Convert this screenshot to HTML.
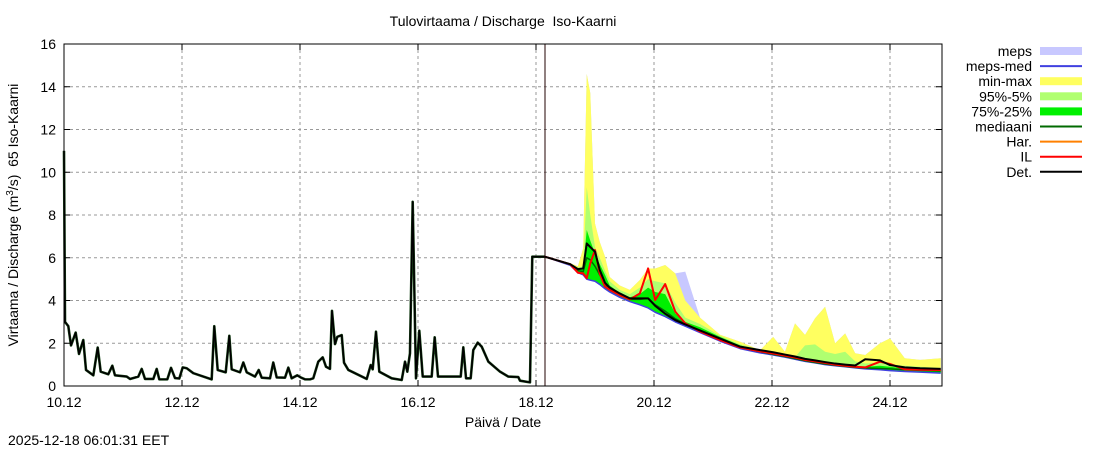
<!DOCTYPE html>
<html><head><meta charset="utf-8"><style>
body{margin:0;background:#fff;}
svg{display:block;font-family:"Liberation Sans",sans-serif;}
</style></head><body>
<svg id="chart" width="1100" height="450" viewBox="0 0 1100 450" xmlns="http://www.w3.org/2000/svg">
<rect width="1100" height="450" fill="#fff"/>
<text x="503" y="26" font-size="14" text-anchor="middle">Tulovirtaama / Discharge&#160; Iso-Kaarni</text>
<text transform="translate(18,215) rotate(-90)" font-size="14" text-anchor="middle">Virtaama / Discharge (m<tspan font-size="10" dy="-5">3</tspan><tspan dy="5">/s)&#160; 65 Iso-Kaarni</tspan></text>
<text x="503" y="427" font-size="14" text-anchor="middle">Päivä / Date</text>
<text x="8" y="445" font-size="14">2025-12-18 06:01:31 EET</text>
<g id="grid"></g><g id="series"></g><g id="axes"></g><g id="legend"></g>
</svg>
<script>
const yTicks=[0,2,4,6,8,10,12,14,16];
const xTickDays=[0,2,4,6,8,10,12,14];
const xTickLabels=["10.12","12.12","14.12","16.12","18.12","20.12","22.12","24.12"];
// history (days from 10.12, value)
const histDays=[0,0.017,0.073,0.119,0.198,0.254,0.327,0.373,0.497,0.571,0.622,0.751,0.819,0.864,1.063,1.119,1.259,1.317,1.373,1.514,1.571,1.615,1.751,1.814,1.881,1.954,2.012,2.080,2.192,2.503,2.547,2.605,2.741,2.802,2.842,2.983,3.039,3.097,3.237,3.300,3.351,3.492,3.547,3.605,3.746,3.802,3.859,3.954,4.012,4.085,4.169,4.225,4.310,4.385,4.441,4.508,4.542,4.593,4.632,4.707,4.746,4.819,5.131,5.198,5.232,5.288,5.344,5.554,5.724,5.780,5.819,5.864,5.910,5.966,6.022,6.080,6.232,6.283,6.339,6.724,6.768,6.814,6.893,6.937,7.012,7.080,7.192,7.390,7.531,7.700,7.729,7.898,7.937,8.153];
const histVals=[11.0,3.0,2.8,1.9,2.5,1.5,2.15,0.75,0.5,1.8,0.67,0.55,0.95,0.5,0.44,0.33,0.44,0.8,0.33,0.33,0.8,0.31,0.31,0.85,0.37,0.35,0.87,0.83,0.6,0.31,2.8,0.75,0.64,2.35,0.78,0.64,1.1,0.64,0.44,0.75,0.39,0.36,1.1,0.4,0.39,0.86,0.36,0.5,0.4,0.31,0.31,0.36,1.14,1.34,0.9,0.8,3.52,1.96,2.3,2.38,1.09,0.75,0.33,0.98,0.78,2.54,0.67,0.36,0.28,1.14,0.67,1.53,8.62,0.36,2.59,0.44,0.44,2.28,0.44,0.44,1.81,0.36,0.36,1.68,2.03,1.84,1.14,0.67,0.44,0.42,0.25,0.17,6.05,6.05];
// forecast
const fcDays=[8.15,8.58,8.71,8.8,8.86,8.92,9.0,9.08,9.17,9.25,9.42,9.59,9.76,9.9,10.02,10.19,10.36,10.53,10.78,11.12,11.46,11.8,12.02,12.22,12.39,12.56,12.73,12.9,13.07,13.24,13.41,13.58,13.83,14.0,14.25,14.51,14.86];
const detVals=[6.05,5.7,5.47,5.5,6.67,6.5,6.28,5.43,4.83,4.6,4.33,4.1,4.1,4.1,3.75,3.38,3.08,2.88,2.6,2.22,1.84,1.68,1.58,1.47,1.38,1.27,1.2,1.12,1.05,1.0,0.96,1.25,1.2,0.98,0.87,0.83,0.8];
const ilVals=[6.05,5.7,5.3,5.27,5.04,5.74,6.36,5.27,4.65,4.5,4.25,4.05,4.33,5.5,4.02,4.77,3.48,2.93,2.55,2.15,1.8,1.62,1.52,1.42,1.33,1.22,1.15,1.08,1.0,0.95,0.9,0.87,1.14,1.03,0.78,0.76,0.75];
const maxVals=[6.05,5.75,5.6,6.44,14.6,13.7,7.6,6.75,6.05,5.1,4.7,4.5,4.96,5.5,5.5,5.66,5.27,4.0,3.2,2.4,2.07,1.68,2.3,1.6,2.93,2.39,3.17,3.71,2.0,2.46,1.53,1.45,2.0,2.23,1.3,1.22,1.3];
const mepsMaxVals=[6.05,5.75,5.6,6.44,14.6,13.7,7.6,6.75,6.05,5.1,4.7,4.5,4.96,5.5,5.5,5.66,5.27,5.35,3.2,2.4,2.07,1.68,2.3,1.6,2.93,2.39,3.17,3.71,2.0,2.46,1.53,1.45,2.0,2.23,1.3,1.22,1.3];
const p95Vals=[6.05,5.7,5.55,5.6,9.3,8.0,6.5,6.0,5.4,4.9,4.5,4.3,4.6,5.0,4.9,4.8,3.9,3.2,2.9,2.35,1.95,1.7,1.5,1.4,1.35,1.9,1.95,1.6,1.5,1.6,1.15,1.05,1.1,1.0,0.95,0.9,0.85];
const p75Vals=[6.05,5.7,5.5,5.5,7.3,6.8,6.2,5.7,5.2,4.7,4.35,4.15,4.3,4.6,4.4,4.3,3.4,3.0,2.75,2.3,1.9,1.65,1.48,1.38,1.3,1.25,1.18,1.1,1.03,0.98,0.92,0.9,0.95,0.9,0.82,0.78,0.75];
const lowVals=[6.05,5.65,5.3,5.2,5.0,4.95,4.9,4.75,4.55,4.4,4.15,3.95,3.8,3.65,3.45,3.25,3.0,2.8,2.5,2.1,1.75,1.55,1.45,1.35,1.25,1.15,1.08,1.0,0.95,0.9,0.85,0.8,0.76,0.72,0.68,0.65,0.6];
const medVals=[6.05,5.68,5.4,5.35,6.0,5.9,5.6,5.2,4.8,4.5,4.25,4.05,4.05,4.1,3.8,3.5,3.15,2.9,2.6,2.2,1.8,1.6,1.48,1.38,1.28,1.18,1.1,1.03,0.97,0.92,0.87,0.84,0.82,0.8,0.76,0.73,0.7];
const legendLabels=["meps","meps-med","min-max","95%-5%","75%-25%","mediaani","Har.","IL","Det."];
const legendColors=["#c8c8ff","#4040e0","#ffff60","#b0ff70","#00f000","#006a00","#ff8000","#ff0000","#000000"];
const legendBand=[true,false,true,true,true,false,false,false,false];

const L=64,R=942,T=44,B=386;
const sx=d=>L+d*59;
const sy=v=>B-(v/16)*(B-T);
const NS="http://www.w3.org/2000/svg";
function mk(tag,parent,attrs){const e=document.createElementNS(NS,tag);for(const k in attrs)e.setAttribute(k,attrs[k]);parent.appendChild(e);return e;}
const grid=document.getElementById('grid'),series=document.getElementById('series'),axes=document.getElementById('axes'),legend=document.getElementById('legend');

yTicks.forEach(v=>{
  if(v>0&&v<16){const g=mk('line',grid,{x1:L,x2:R,y1:sy(v),y2:sy(v),stroke:'#999','stroke-dasharray':'3,3','stroke-width':1});
  
  }
  const t=mk('text',axes,{x:L-8,y:sy(v)+5,'font-size':14,'text-anchor':'end'});t.textContent=v;
  
  
  mk('line',axes,{x1:L,x2:L+6,y1:sy(v),y2:sy(v),stroke:'#000'});
  mk('line',axes,{x1:R,x2:R-6,y1:sy(v),y2:sy(v),stroke:'#000'});
});
xTickDays.forEach((d,i)=>{
  if(d>0){const g=mk('line',grid,{x1:sx(d),x2:sx(d),y1:T,y2:B,stroke:'#999','stroke-dasharray':'3,3','stroke-width':1});
  
  }
  const t=mk('text',axes,{x:sx(d),y:B+21,'font-size':14,'text-anchor':'middle'});t.textContent=xTickLabels[i];
  
  
  mk('line',axes,{x1:sx(d),x2:sx(d),y1:B,y2:B-6,stroke:'#000'});
  mk('line',axes,{x1:sx(d),x2:sx(d),y1:T,y2:T+6,stroke:'#000'});
});
const frame=mk('rect',axes,{x:L,y:T,width:R-L,height:B-T,fill:'none',stroke:'#000','stroke-width':1});



function band(up,lo,color,name){
  let p=fcDays.map((d,i)=>sx(d)+','+sy(up[i])).join(' ')+' '+fcDays.map((d,i)=>sx(d)+','+sy(lo[i])).reverse().join(' ');
  const e=mk('polygon',series,{points:p,fill:color,stroke:'none'});
  
  
}
function line(days,vals,color,w,name){
  const e=mk('polyline',series,{points:days.map((d,i)=>sx(d)+','+sy(vals[i])).join(' '),fill:'none',stroke:color,'stroke-width':w,'stroke-linejoin':'round'});
  
  
}
band(mepsMaxVals,lowVals,'#c8c8ff','meps-band');
band(maxVals,lowVals,'#ffff60','min-max-band');
band(p95Vals,lowVals,'#b0ff70','p95-p5-band');
band(p75Vals,lowVals,'#00f000','p75-p25-band');
line(fcDays,lowVals,'#4040e0',1.5,'meps-med-line');
line(fcDays,medVals,'#006a00',1.5,'median-line');
line(fcDays,ilVals,'#ff0000',2,'il-line');
line(histDays,histVals,'#1a4a1a',2.6,'history-underlay');
line(histDays,histVals,'#000',1.6,'history-line');
line(fcDays,detVals,'#000',2,'det-line');
const now=mk('line',series,{x1:545,x2:545,y1:T,y2:B,stroke:'#200',"stroke-width":1});



legendLabels.forEach((lab,i)=>{
  const y=51+i*15.1;
  const t=mk('text',legend,{x:1032,y:y+5,'font-size':14,'text-anchor':'end'});t.textContent=lab;
  
  
  const s=legendBand[i]?mk('rect',legend,{x:1040,y:y-4,width:42,height:8,fill:legendColors[i]}):mk('line',legend,{x1:1040,x2:1082,y1:y,y2:y,stroke:legendColors[i],'stroke-width':2});
  
  
});
</script>
</body></html>
